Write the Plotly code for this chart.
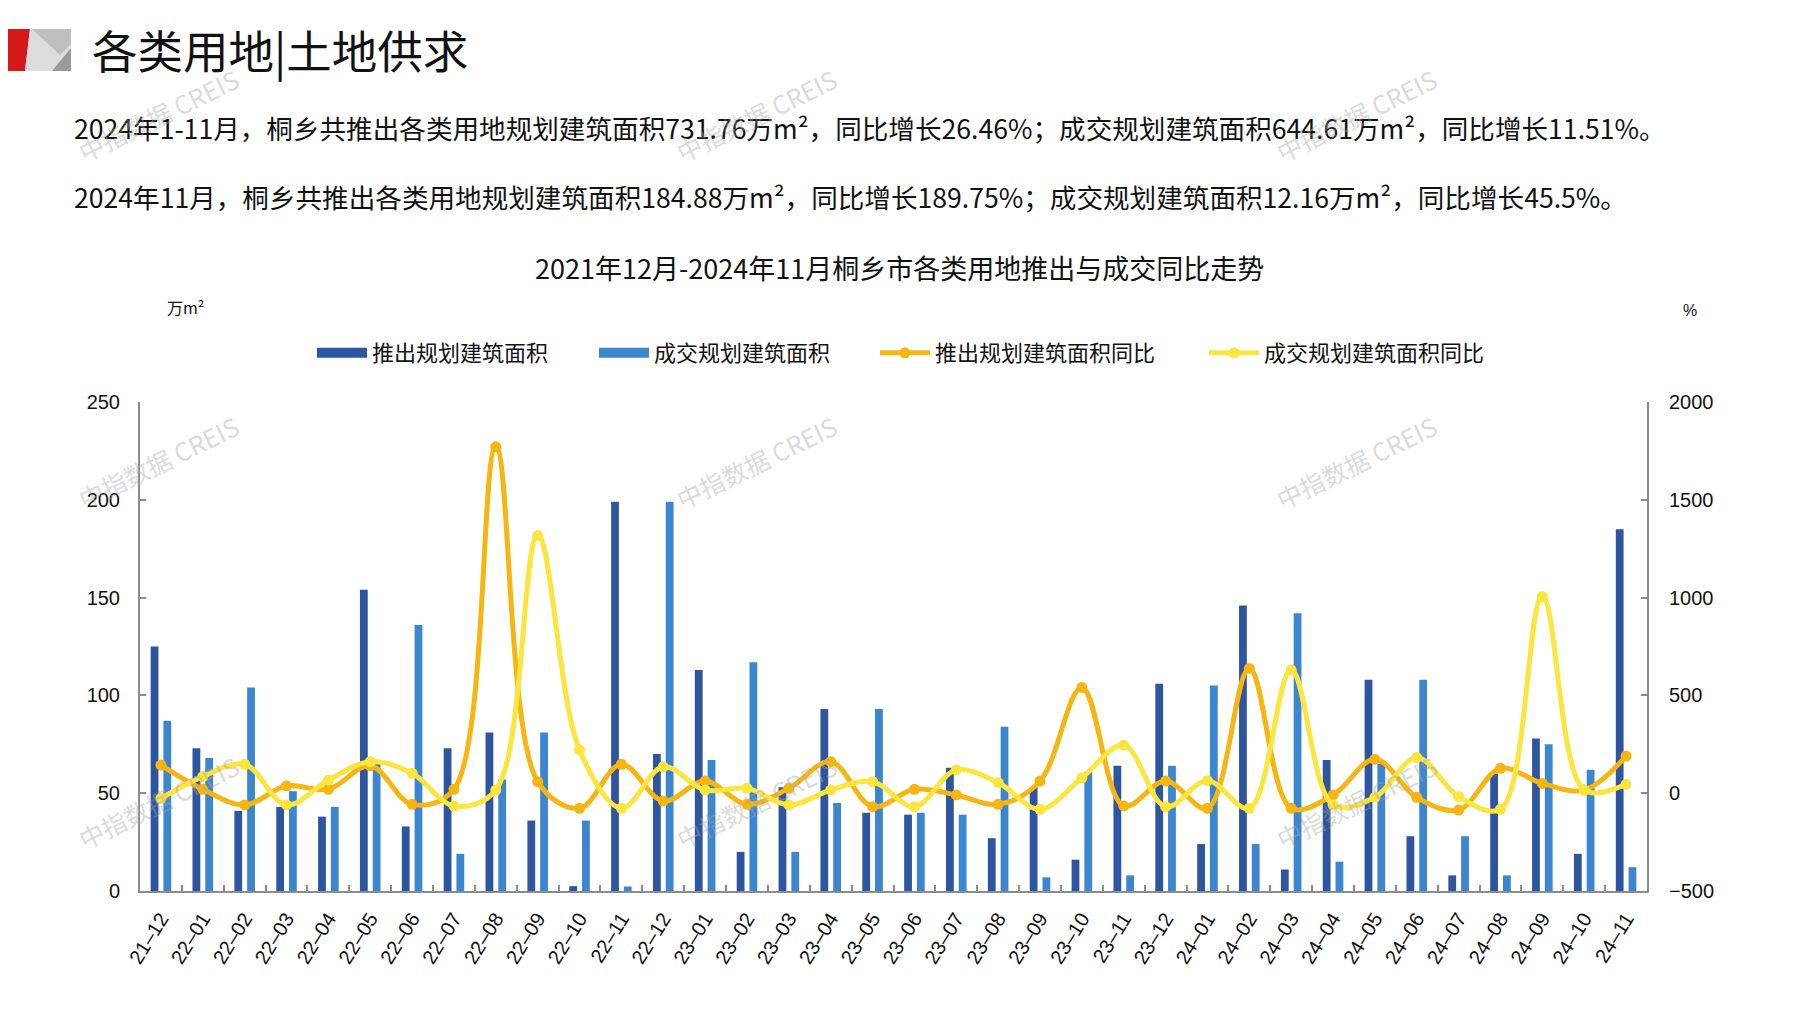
import plotly.graph_objects as go

categories = ["21–12", "22–01", "22–02", "22–03", "22–04", "22–05", "22–06", "22–07", "22–08",
              "22–09", "22–10", "22–11", "22–12", "23–01", "23–02", "23–03", "23–04", "23–05",
              "23–06", "23–07", "23–08", "23–09", "23–10", "23–11", "23–12", "24–01", "24–02",
              "24–03", "24–04", "24–05", "24–06", "24–07", "24–08", "24–09", "24–10", "24–11"]

supply_area = [125, 73, 41, 43, 38, 154, 33, 73, 81, 36, 2.5, 199, 70, 113, 20, 53, 93, 40,
               39, 63, 27, 53, 16, 64, 106, 24, 146, 11, 67, 108, 28, 8, 60, 78, 19, 184.88]
deal_area = [87, 68, 104, 51, 43, 67, 136, 19, 57, 81, 36, 2.3, 199, 67, 117, 20, 45, 93,
             40, 39, 84, 7, 61, 8, 64, 105, 24, 142, 15, 65, 108, 28, 8, 75, 62, 12.16]
supply_yoy = [144, 20, -60, 38, 20, 140, -57, 20, 1771, 59, -77, 148, -40, 62, -57, 25, 161, -69,
              20, -9, -57, 62, 541, -65, 62, -77, 638, -77, -9, 173, -21, -86, 127, 50, 16, 189.75]
deal_yoy = [-26, 85, 148, -60, 67, 161, 102, -65, 16, 1317, 221, -77, 135, 16, 25, -60, 16, 59,
            -69, 119, 54, -82, 79, 246, -69, 64, -77, 630, -60, -21, 182, -18, -82, 1005, 16, 45.5]

series_names = ["推出规划建筑面积", "成交规划建筑面积", "推出规划建筑面积同比", "成交规划建筑面积同比"]
heading = "各类用地|土地供求"
line1 = "2024年1-11月，桐乡共推出各类用地规划建筑面积731.76万m²，同比增长26.46%；成交规划建筑面积644.61万m²，同比增长11.51%。"
line2 = "2024年11月，桐乡共推出各类用地规划建筑面积184.88万m²，同比增长189.75%；成交规划建筑面积12.16万m²，同比增长45.5%。"
chart_title = "2021年12月-2024年11月桐乡市各类用地推出与成交同比走势"
watermark = "中指数据 CREIS"

# page body has an 8px margin; work in page pixel coordinates and subtract it
O = 8
W, H = 1797 - 2 * O, 1010 - 2 * O
L, R, T, B = 140, 1647, 402, 891   # plot area in page px


def px(x, y):
    return (x - L) / (R - L), (B - y) / (B - T)


CJK = "Noto Sans CJK SC"
NUM = "Liberation Sans, Arial"
AXIS_COLOR = "#8c8c8c"
C_SUPPLY = "#2D55A0"
C_DEAL = "#3B86CF"
C_SYOY = "#F6B511"
C_DYOY = "#FCE63E"

fig = go.Figure()
fig.add_trace(go.Bar(x=categories, y=supply_area, name=series_names[0], showlegend=False,
                     marker=dict(color=C_SUPPLY, line=dict(width=0))))
fig.add_trace(go.Bar(x=categories, y=deal_area, name=series_names[1], showlegend=False,
                     marker=dict(color=C_DEAL, line=dict(width=0))))
fig.add_trace(go.Scatter(x=categories, y=supply_yoy, name=series_names[2], yaxis="y2",
                         mode="lines+markers", legend="legend3",
                         line=dict(color=C_SYOY, width=5, shape="spline", smoothing=1.0),
                         marker=dict(size=11, color=C_SYOY)))
fig.add_trace(go.Scatter(x=categories, y=deal_yoy, name=series_names[3], yaxis="y2",
                         mode="lines+markers", legend="legend4",
                         line=dict(color=C_DYOY, width=5, shape="spline", smoothing=1.0),
                         marker=dict(size=11, color=C_DYOY)))
# legend-only entries with wide rectangular swatches for the bars
fig.add_trace(go.Scatter(x=[None], y=[None], name=series_names[0], mode="lines", legend="legend",
                         line=dict(color=C_SUPPLY, width=14)))
fig.add_trace(go.Scatter(x=[None], y=[None], name=series_names[1], mode="lines", legend="legend2",
                         line=dict(color=C_DEAL, width=14)))

annotations = []


def add_text(text, x, y, size, xanchor="left", family=CJK, color="#111111", angle=0, yanchor="middle"):
    xp, yp = px(x, y)
    annotations.append(dict(text=text, x=xp, y=yp, xref="paper", yref="paper", showarrow=False,
                            xanchor=xanchor, yanchor=yanchor, textangle=angle,
                            font=dict(size=size, family=family, color=color)))


add_text(heading, 90, 49, 45.5)
add_text(line1, 72, 127, 26.6)
add_text(line2, 72, 197, 26.6)
add_text(chart_title, 899, 267, 27, xanchor="center")
add_text("万m²", 185, 307, 16, xanchor="center")
add_text("%", 1690, 310, 16, xanchor="center", family=NUM)

for wx in (158, 756, 1356):
    for wy in (115, 462, 802):
        add_text(watermark, wx, wy, 25, xanchor="center", color="rgba(165,165,165,0.42)", angle=-26)

shapes = []


def poly(points, color):
    path = ""
    for i, (x, y) in enumerate(points):
        xp, yp = px(x, y)
        path += ("M" if i == 0 else "L") + f"{xp},{yp} "
    path += "Z"
    shapes.append(dict(type="path", path=path, xref="paper", yref="paper",
                       fillcolor=color, line=dict(width=0), layer="above"))


poly([(0, 29), (30, 29), (25, 71), (0, 71)], "#D7191C")
poly([(30, 29), (71, 29), (71, 71), (25, 71)], "#DCDCDC")
poly([(32, 29), (71, 29), (71, 44), (60, 55)], "#BEBEBE")
poly([(71, 48), (71, 71), (52, 71)], "#9A9A9A")


def legend_at(x):
    xp, yp = px(x, 353)
    return dict(orientation="h", x=xp, xanchor="left", y=yp, yanchor="middle",
                font=dict(size=22, family=CJK, color="#111111"), itemwidth=50,
                bgcolor="rgba(0,0,0,0)", borderwidth=0)


fig.update_layout(
    width=W, height=H, autosize=False,
    margin=dict(l=L - O, r=W - (R - O), t=T - O, b=H - (B - O), pad=0),
    paper_bgcolor="white", plot_bgcolor="white",
    barmode="group", bargap=0.39, bargroupgap=0.39,
    showlegend=True,
    legend=legend_at(312),
    legend2=legend_at(594),
    legend3=legend_at(875),
    legend4=legend_at(1204),
    annotations=annotations,
    shapes=shapes,
    xaxis=dict(type="category", range=[-0.5, len(categories) - 0.5], autorange=False,
               showline=True, linecolor=AXIS_COLOR, linewidth=2,
               ticks="inside", tickson="boundaries", ticklen=6, tickcolor=AXIS_COLOR, tickwidth=1.5,
               tickangle=-58, tickfont=dict(size=20, family=NUM, color="#111111"),
               showgrid=False, zeroline=False, automargin=False, ticklabelstandoff=6),
    yaxis=dict(range=[0, 250], dtick=50, showline=True, linecolor=AXIS_COLOR, linewidth=2,
               ticks="inside", ticklen=6, tickcolor=AXIS_COLOR, tickwidth=1.5,
               tickfont=dict(size=20, family=NUM, color="#111111"),
               showgrid=False, zeroline=False, automargin=False, ticklabelstandoff=14),
    yaxis2=dict(range=[-500, 2000], dtick=500, overlaying="y", side="right", showline=True,
                linecolor=AXIS_COLOR, linewidth=2, ticks="inside", ticklen=6, tickcolor=AXIS_COLOR,
                tickwidth=1.5, tickfont=dict(size=20, family=NUM, color="#111111"),
                showgrid=False, zeroline=False, automargin=False, ticklabelstandoff=16),
)

fig.write_html("out.html")
